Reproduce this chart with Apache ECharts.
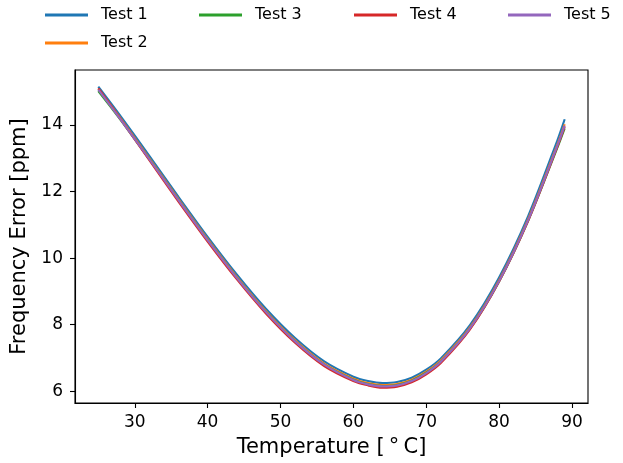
<!DOCTYPE html>
<html>
<head>
<meta charset="utf-8">
<script src="https://cdn.jsdelivr.net/npm/echarts@6/dist/echarts.min.js"></script>
<style>
  html, body { margin: 0; padding: 0; background: #fff; }
  #chart { width: 623px; height: 463px; }
</style>
</head>
<body>
<div id="chart"></div>
<script>
// temperatures (°C)
var temps = [25, 28, 32, 36, 40, 44, 48, 52, 56, 60, 62, 64, 66, 68, 70, 72, 76, 80, 84, 88, 89]

// frequency error per run (ppm)
var test1 = [15.15, 14.28, 13.07, 11.84, 10.64, 9.51, 8.48, 7.60, 6.90, 6.44, 6.31, 6.25, 6.28, 6.41, 6.65, 6.99, 7.99, 9.42, 11.27, 13.54, 14.17]
var test2 = [15.08, 14.21, 13.00, 11.77, 10.57, 9.44, 8.41, 7.53, 6.83, 6.38, 6.25, 6.19, 6.22, 6.35, 6.59, 6.93, 7.92, 9.34, 11.18, 13.41, 14.02]
var test3 = [15.02, 14.17, 12.97, 11.74, 10.54, 9.41, 8.38, 7.50, 6.80, 6.35, 6.22, 6.16, 6.19, 6.32, 6.56, 6.89, 7.88, 9.30, 11.13, 13.32, 13.90]
var test4 = [15.10, 14.19, 12.94, 11.70, 10.50, 9.37, 8.34, 7.46, 6.76, 6.31, 6.18, 6.11, 6.14, 6.27, 6.51, 6.85, 7.86, 9.30, 11.13, 13.35, 13.95]
var test5 = [15.06, 14.18, 12.97, 11.74, 10.54, 9.41, 8.38, 7.50, 6.80, 6.34, 6.21, 6.15, 6.18, 6.31, 6.55, 6.89, 7.89, 9.31, 11.15, 13.38, 13.98]

var xTicks = [30, 40, 50, 60, 70, 80, 90]
var yTicks = [6, 8, 10, 12, 14]

var names = ['Test 1', 'Test 2', 'Test 3', 'Test 4', 'Test 5']
var colors = ['#1f77b4', '#ff7f0e', '#2ca02c', '#d62728', '#9467bd']
var runs = [test1, test2, test3, test4, test5]

var font = 'DejaVu Sans'

function pairs(vals) {
  return temps.map(function(t, i) { return [t, vals[i]] })
}

// matplotlib fills the legend column by column, so Test 2 sits under Test 1
var legendPos = [[45, 7], [45, 35], [199, 7], [354, 7], [508, 7]]

var legends = names.map(function(n, i) {
  return {
    data: [n],
    left: legendPos[i][0],
    top: legendPos[i][1],
    padding: 0,
    icon: 'rect',
    itemWidth: 43,
    itemHeight: 3,
    selectedMode: false,
    textStyle: { fontFamily: font, fontSize: 16, color: '#000', padding: [0, 0, 0, 8] }
  }
})

var chart = echarts.init(document.getElementById('chart'))
chart.setOption({
  animation: false,
  backgroundColor: '#fff',
  legend: legends,
  grid: {
    left: 75, right: 35, top: 70, bottom: 60,
    show: true, borderColor: '#000', borderWidth: 1.1, backgroundColor: 'transparent'
  },
  xAxis: {
    type: 'value',
    min: 21.8,
    max: 92.2,
    name: 'Temperature [\u2009°\u2009C]',
    nameLocation: 'middle',
    nameGap: 34,
    nameTextStyle: { fontFamily: font, fontSize: 21, color: '#000' },
    axisLine: { show: true, lineStyle: { color: '#000', width: 1.1 } },
    axisTick: { show: true, length: 5, customValues: xTicks, lineStyle: { color: '#000', width: 1.1 } },
    axisLabel: { customValues: xTicks, fontFamily: font, fontSize: 17, color: '#000', margin: 11 },
    splitLine: { show: false }
  },
  yAxis: {
    type: 'value',
    min: 5.65,
    max: 15.65,
    name: 'Frequency Error [ppm]',
    nameLocation: 'middle',
    nameGap: 41,
    nameTextStyle: { fontFamily: font, fontSize: 21, color: '#000' },
    axisLine: { show: true, lineStyle: { color: '#000', width: 1.1 } },
    axisTick: { show: true, length: 5, customValues: yTicks, lineStyle: { color: '#000', width: 1.1 } },
    axisLabel: { customValues: yTicks, fontFamily: font, fontSize: 17, color: '#000', margin: 12 },
    splitLine: { show: false }
  },
  series: runs.map(function(vals, i) {
    return {
      name: names[i],
      type: 'line',
      data: pairs(vals),
      smooth: 0.3,
      showSymbol: false,
      color: colors[i],
      lineStyle: { width: 2.1, color: colors[i] }
    }
  })
})
</script>
</body>
</html>
